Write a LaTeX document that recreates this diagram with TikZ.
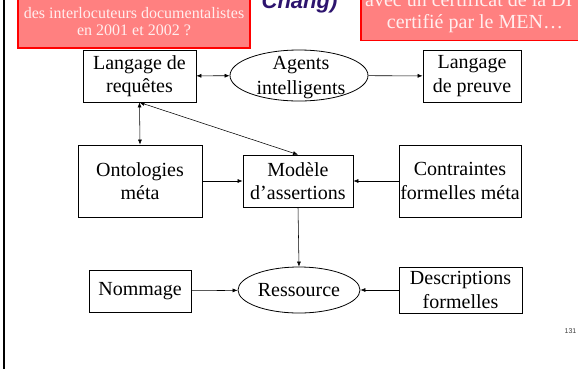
\documentclass[tikz,border=0pt]{standalone}
\usepackage{fontspec}
\setmainfont{Liberation Serif}
\newfontfamily\arialfont{Liberation Sans}
\usetikzlibrary{shapes.geometric,arrows.meta}
\definecolor{pinkfill}{RGB}{255,128,128}
\definecolor{boxred}{RGB}{255,0,0}
\definecolor{titlecol}{RGB}{45,20,110}
\definecolor{pinktext}{RGB}{255,238,238}
\begin{document}
\begin{tikzpicture}[x=1pt,y=-1pt,
  box/.style={draw=black,line width=0.8pt,rectangle,inner sep=0pt,align=center,font=\fontsize{20}{23.5}\selectfont},
  oval/.style={draw=black,line width=0.8pt,ellipse,inner sep=0pt},
  lbl/.style={inner sep=0pt,align=center,font=\fontsize{20}{24.5}\selectfont},
  conn/.style={line width=0.55pt,draw=black,-{Latex[length=5pt,width=4pt]}},
  bconn/.style={line width=0.55pt,draw=black,{Latex[length=5pt,width=4pt]}-{Latex[length=5pt,width=4pt]}},
  note/.style={fill=pinkfill,draw=boxred,line width=1.3pt},
  notetext/.style={text=pinktext,inner sep=0pt,anchor=base}
]
\useasboundingbox (0,0) rectangle (578,368);
\clip (0,0) rectangle (578,368);
\fill[white] (0,0) rectangle (578,368);

% left frame bar
\draw[line width=1.6pt] (3.7,-2) -- (3.7,370);

% top notes
\draw[note] (18,-30) rectangle (250,48);
\node[notetext,font=\fontsize{16}{18}\selectfont] (n1b) at (134,18.3) {des interlocuteurs documentalistes};
\node[notetext,font=\fontsize{16}{18}\selectfont] (n1c) at (134,35) {en 2001 et 2002 ?};

\draw[note] (361,-30) rectangle (600,40.5);
\node[notetext,anchor=base west,font=\fontsize{20}{22}\selectfont] (n2a) at (365,6.5) {avec un certificat de la DI};
\node[notetext,font=\fontsize{20}{22}\selectfont] (n2b) at (475,28.5) {certifié par le MEN…};

% title fragment
\node[font=\arialfont\bfseries\itshape\fontsize{22}{24}\selectfont,text=titlecol,anchor=base,inner sep=0pt] (title) at (299.5,8) {Chang)};

% nodes
\node[box,minimum width=113pt,minimum height=52pt] (req) at (139.5,76) {Langage de\\requêtes};
\node[oval,minimum width=138pt,minimum height=51pt] (agents) at (299,75.5) {};
\node[lbl] (agentstxt) at (301,77.5) {Agents\\intelligents};
\node[box,minimum width=98pt,minimum height=52pt] (preuve) at (472,76) {Langage\\de preuve};

\node[box,minimum width=124pt,minimum height=72pt] (onto) at (140,181) {Ontologies\\méta};
\node[box,minimum width=110pt,minimum height=52pt] (modele) at (298,181) {Modèle\\d’assertions};
\node[box,minimum width=122pt,minimum height=72pt] (contr) at (460,181) {Contraintes\\formelles méta};

\node[box,minimum width=102pt,minimum height=42pt] (nomm) at (140,291) {Nommage};
\node[oval,minimum width=122pt,minimum height=46pt,font=\fontsize{20}{23.5}\selectfont] (ress) at (299,290) {Ressource};
\node[box,minimum width=123pt,minimum height=46pt] (desc) at (460.5,290) {Descriptions\\formelles};

% connectors
\draw[bconn] (req) -- (agents);
\draw[conn] (agents) -- (preuve);
\draw[bconn] (req.south) -- (onto.north);
\draw[bconn] (req.south) -- (modele.north);
\draw[conn] (onto) -- (modele);
\draw[conn] (contr) -- (modele);
\draw[conn] (modele.south) -- (ress.north);
\draw[conn] (nomm) -- (ress);
\draw[conn] (desc) -- (ress);

% page number
\node[font=\arialfont\fontsize{7}{8}\selectfont,text=black!75,inner sep=0pt] (pagenum) at (570.5,331) {131};
\end{tikzpicture}
\end{document}
